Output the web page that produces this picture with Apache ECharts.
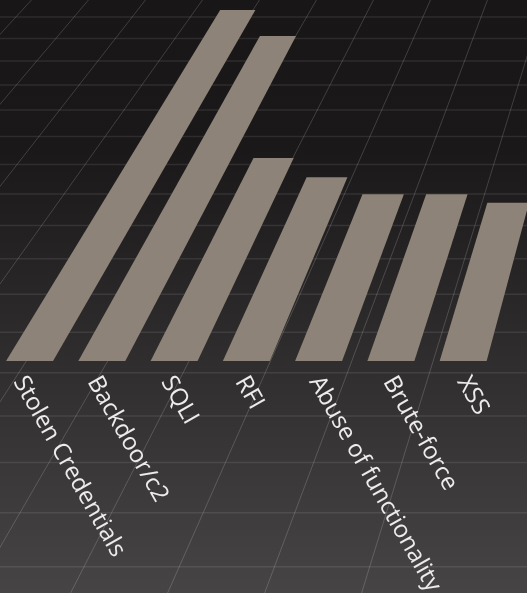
<!DOCTYPE html>
<html><head><meta charset="utf-8">
<style>html,body{margin:0;padding:0;background:#1a1718;overflow:hidden}#c{width:527px;height:593px}</style>
<script src="https://cdn.jsdelivr.net/npm/echarts@6/dist/echarts.min.js"></script>
</head><body><div id="c"></div>
<script>
const categories = ['Stolen Credentials','Backdoor/c2','SQLI','RFI','Abuse of functionality','Brute-force','XSS'];
const values = [100,90.4,50.7,45.2,40.4,40.4,38.1];
const gridColumns = [-6,-5,-4,-3,-2,-1,0,1,2,3];
const gridRows = [0,1,2,3,4,5,6,7,8,9,10,11,12,13,14,15,16];

const BAR_VP = {x:862, h:1042, base:361, k:1052};
function projBar(p){
  const d = BAR_VP.base - p[1];
  const n = d / BAR_VP.k;
  const y = (BAR_VP.base - n*BAR_VP.h)/(1+n);
  const x = BAR_VP.x + (p[0]-BAR_VP.x)*(y+BAR_VP.h)/(BAR_VP.base+BAR_VP.h);
  return [x,y];
}
const GRID_VP = {x:805, h:845, ref:593, fy0:17, fy1:566.8};
const B = (1/(GRID_VP.fy1+GRID_VP.h)-1/(GRID_VP.fy0+GRID_VP.h))/(GRID_VP.fy1-GRID_VP.fy0);
const A = 1/(GRID_VP.fy0+GRID_VP.h)-B*GRID_VP.fy0;
function projGrid(p){
  const y = 1/(A+B*p[1])-GRID_VP.h;
  const x = GRID_VP.x + (p[0]-GRID_VP.x)*(y+GRID_VP.h)/(GRID_VP.ref+GRID_VP.h);
  return [x,y];
}
const option = {
  animation:false,
  backgroundColor:{type:'linear',x:0,y:0,x2:0,y2:1,colorStops:[
    {offset:0,color:'#191617'},{offset:0.25,color:'#1b1819'},{offset:1,color:'#474445'}]},
  grid:[
    {left:-6.6,width:505.9,top:10,height:351,outerBoundsMode:'none'},
    {left:-511.4,width:970,top:-51.7,height:687.2,outerBoundsMode:'none'}
  ],
  xAxis:[
    {type:'category',data:categories,show:false,gridIndex:0},
    {type:'value',min:-6,max:4,show:false,gridIndex:1}
  ],
  yAxis:[
    {type:'value',min:0,max:100,show:false,gridIndex:0},
    {type:'value',min:-2,max:18,inverse:true,show:false,gridIndex:1}
  ],
  series:[
    {type:'custom',xAxisIndex:1,yAxisIndex:1,clip:false,silent:true,z:1,
     data:gridColumns.map(j=>[j]),
     encode:{x:0},
     renderItem(p,api){
       const j=api.value(0);
       const a=projGrid(api.coord([j,-2])), b=projGrid(api.coord([j,18]));
       return {type:'line',shape:{x1:a[0],y1:a[1],x2:b[0],y2:b[1]},
         style:{stroke:'rgba(255,255,255,0.17)',lineWidth:1}};
     }},
    {type:'custom',xAxisIndex:1,yAxisIndex:1,clip:false,silent:true,z:1,
     data:gridRows.map(k=>[k]),
     encode:{y:0},
     renderItem(p,api){
       const k=api.value(0);
       const a=projGrid(api.coord([-6,k])), 
             y=a[1];
       return {type:'line',shape:{x1:-10,y1:y,x2:540,y2:y},
         style:{stroke:'rgba(255,255,255,0.09)',lineWidth:1.5}};
     }},
    {type:'custom',xAxisIndex:0,yAxisIndex:0,clip:false,silent:true,z:3,
     data:values.map((v,i)=>[i,v]),
     encode:{x:0,y:1},
     renderItem(p,api){
       const i=api.value(0), v=api.value(1), w=api.size([1,0])[0]*0.65;
       const c0=api.coord([i,0]), c1=api.coord([i,v]);
       const pts=[[c0[0]-w/2,c0[1]],[c0[0]+w/2,c0[1]],[c1[0]+w/2,c1[1]],[c1[0]-w/2,c1[1]]].map(projBar);
       return {type:'polygon',shape:{points:pts},style:{fill:'#8e8378'}};
     }},
    {type:'custom',xAxisIndex:0,yAxisIndex:0,clip:false,silent:true,z:4,
     data:categories.map((c,i)=>[i,c]),
     encode:{x:0},
     renderItem(p,api){
       const i=api.value(0);
       const c=api.coord([i,-3.6]);
       const q=projBar([c[0]-0.5+0.8*i,c[1]]);
       return {type:'text',x:q[0],y:q[1],rotation:-60.5*Math.PI/180,
         style:{text:categories[i],x:0,y:0,fill:'#ececec',font:'400 24px "Open Sans"',align:'left',verticalAlign:'middle'}};
     }}
  ]
};
const chart=echarts.init(document.getElementById('c'),null,{renderer:'canvas',width:527,height:593});
chart.setOption(option);
</script></body></html>
